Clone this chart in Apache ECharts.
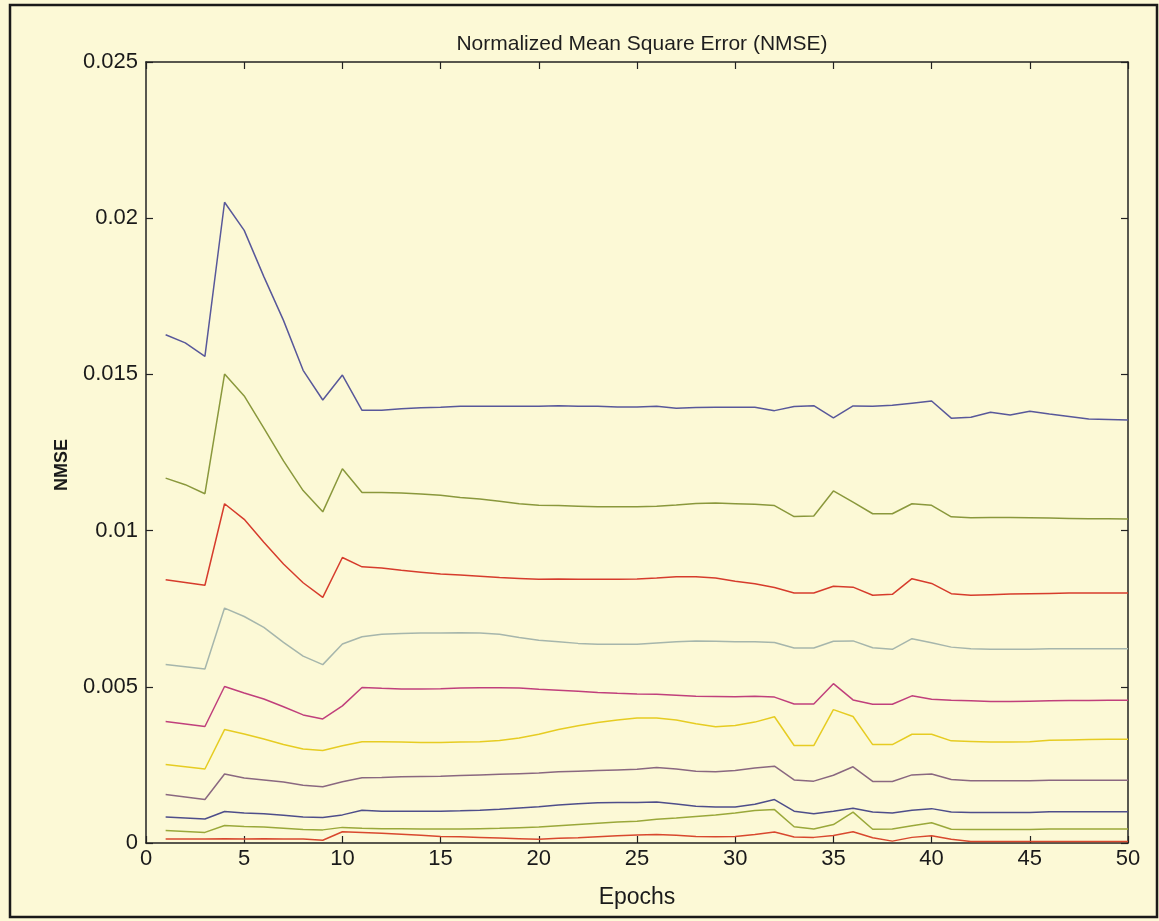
<!DOCTYPE html>
<html>
<head>
<meta charset="utf-8">
<script src="https://cdn.jsdelivr.net/npm/echarts@6/dist/echarts.min.js"></script>
<style>
html,body{margin:0;padding:0;background:#fcf9d6;}
#c{width:1159px;height:921px;}
</style>
</head>
<body>
<div id="c"></div>
<script>
const epochs = [1,2,3,4,5,6,7,8,9,10,11,12,13,14,15,16,17,18,19,20,21,22,23,24,25,26,27,28,29,30,31,32,33,34,35,36,37,38,39,40,41,42,43,44,45,46,47,48,49,50];
const xTicks = [0,5,10,15,20,25,30,35,40,45,50];
const yTicks = [0,0.005,0.01,0.015,0.02,0.025];

// values in units of 1e-3
const s1 = [16.27,16.01,15.58,20.51,19.61,18.13,16.73,15.13,14.18,14.98,13.85,13.85,13.90,13.93,13.95,13.98,13.98,13.98,13.98,13.98,14.00,13.98,13.98,13.96,13.96,13.98,13.92,13.94,13.95,13.95,13.95,13.84,13.97,14.00,13.61,13.99,13.98,14.01,14.08,14.15,13.60,13.63,13.79,13.70,13.82,13.73,13.65,13.57,13.56,13.54];
const s2 = [11.68,11.47,11.18,15.01,14.31,13.28,12.23,11.28,10.60,11.98,11.22,11.22,11.20,11.17,11.13,11.06,11.01,10.94,10.86,10.81,10.80,10.78,10.76,10.76,10.76,10.78,10.82,10.87,10.88,10.86,10.84,10.80,10.45,10.47,11.27,10.91,10.54,10.54,10.86,10.81,10.44,10.41,10.42,10.42,10.41,10.40,10.39,10.38,10.38,10.37];
const s3 = [8.43,8.34,8.25,10.86,10.36,9.63,8.93,8.33,7.86,9.14,8.84,8.80,8.73,8.67,8.61,8.58,8.54,8.50,8.47,8.44,8.45,8.44,8.44,8.44,8.45,8.48,8.52,8.52,8.48,8.38,8.30,8.18,8.00,8.00,8.22,8.19,7.93,7.96,8.46,8.31,7.98,7.93,7.95,7.97,7.98,7.99,8.00,8.00,8.00,8.00];
const s4 = [5.71,5.64,5.57,7.52,7.25,6.90,6.42,5.98,5.71,6.37,6.60,6.68,6.71,6.72,6.72,6.73,6.72,6.68,6.58,6.49,6.44,6.39,6.36,6.36,6.36,6.40,6.44,6.47,6.46,6.44,6.44,6.42,6.24,6.24,6.46,6.47,6.25,6.20,6.54,6.41,6.27,6.22,6.20,6.20,6.20,6.22,6.22,6.22,6.22,6.22];
const s5 = [3.89,3.81,3.73,5.01,4.80,4.61,4.36,4.10,3.97,4.39,4.98,4.95,4.93,4.93,4.94,4.96,4.97,4.97,4.96,4.92,4.89,4.86,4.82,4.79,4.77,4.76,4.73,4.70,4.69,4.68,4.70,4.67,4.45,4.45,5.10,4.58,4.44,4.44,4.71,4.60,4.57,4.55,4.53,4.53,4.54,4.55,4.56,4.56,4.57,4.57];
const s6 = [2.51,2.44,2.37,3.63,3.49,3.33,3.15,3.01,2.96,3.11,3.24,3.24,3.23,3.22,3.22,3.23,3.24,3.28,3.36,3.48,3.63,3.75,3.86,3.94,4.00,4.00,3.94,3.82,3.72,3.76,3.87,4.04,3.12,3.12,4.27,4.05,3.15,3.15,3.48,3.48,3.27,3.25,3.23,3.23,3.24,3.29,3.30,3.31,3.32,3.32];
const s7 = [1.55,1.47,1.39,2.21,2.08,2.02,1.95,1.85,1.80,1.96,2.09,2.10,2.12,2.13,2.14,2.16,2.18,2.20,2.22,2.24,2.28,2.30,2.32,2.34,2.36,2.42,2.37,2.30,2.28,2.32,2.40,2.46,2.02,1.98,2.17,2.44,1.97,1.97,2.18,2.21,2.03,1.99,1.99,1.99,1.99,2.01,2.01,2.01,2.01,2.01];
const s8 = [0.83,0.80,0.77,1.01,0.96,0.94,0.89,0.83,0.82,0.90,1.05,1.02,1.02,1.02,1.02,1.03,1.05,1.08,1.12,1.16,1.22,1.26,1.29,1.30,1.30,1.31,1.25,1.18,1.15,1.15,1.24,1.39,1.02,0.94,1.02,1.11,0.99,0.96,1.05,1.10,0.99,0.98,0.98,0.98,0.98,1.00,1.00,1.00,1.00,1.00];
const s9 = [0.40,0.37,0.34,0.56,0.53,0.51,0.47,0.43,0.42,0.50,0.47,0.46,0.46,0.45,0.45,0.45,0.46,0.47,0.49,0.51,0.55,0.59,0.63,0.67,0.70,0.76,0.80,0.85,0.90,0.96,1.04,1.07,0.52,0.45,0.59,0.99,0.44,0.45,0.55,0.65,0.44,0.43,0.43,0.43,0.43,0.45,0.45,0.45,0.45,0.45];
const s10 = [0.13,0.13,0.13,0.14,0.13,0.14,0.13,0.13,0.09,0.36,0.34,0.31,0.28,0.25,0.21,0.20,0.18,0.16,0.14,0.12,0.15,0.17,0.20,0.23,0.26,0.27,0.25,0.21,0.20,0.21,0.27,0.35,0.19,0.18,0.24,0.36,0.17,0.06,0.18,0.23,0.12,0.05,0.05,0.05,0.05,0.05,0.05,0.05,0.05,0.05];

const seriesValues = [s1,s2,s3,s4,s5,s6,s7,s8,s9,s10];
const seriesColors = ['#58589a','#8a983c','#d63c2c','#a6b6ac','#c0407c','#e6cc22','#8a6880','#4e4e8a','#9aa83a','#d8482e'];

const chart = echarts.init(document.getElementById('c'), null, {renderer:'canvas'});
const FONT = 'Liberation Sans, Arial, sans-serif';

const series = seriesValues.map((vals, i) => ({
  type: 'line',
  xAxisIndex: 0, yAxisIndex: 0,
  data: epochs.map((e, k) => [e, vals[k] / 1000]),
  showSymbol: false,
  symbol: 'none',
  smooth: false,
  lineStyle: {width: 1.5, color: seriesColors[i]},
  itemStyle: {color: seriesColors[i]},
  z: 3
}));

const tickInside = {show: true, inside: true, length: 7, lineStyle: {color: '#222', width: 1.2}};

chart.setOption({
  backgroundColor: '#fcf9d6',
  animation: false,
  title: {
    text: 'Normalized Mean Square Error (NMSE)',
    left: 637, top: 29, textAlign: 'center',
    textStyle: {fontFamily: FONT, fontSize: 21, fontWeight: 'normal', color: '#1e1e1e'}
  },
  grid: {left: 146, right: 31, top: 62, bottom: 78, show: false},
  xAxis: [{
    type: 'value', min: 0, max: 50, interval: 5,
    position: 'bottom',
    name: 'Epochs', nameLocation: 'middle', nameGap: 43,
    nameTextStyle: {fontFamily: FONT, fontSize: 23, color: '#1a1a1a'},
    axisLine: {show: true, onZero: false, lineStyle: {color: '#222', width: 1.5}},
    axisTick: tickInside,
    axisLabel: {fontFamily: FONT, fontSize: 22, color: '#1a1a1a', margin: 5,
      formatter: v => xTicks.includes(v) ? String(v) : ''},
    splitLine: {show: false}
  }, {
    type: 'value', min: 0, max: 50, interval: 5,
    position: 'top',
    axisLine: {show: true, onZero: false, lineStyle: {color: '#222', width: 1.5}},
    axisTick: tickInside,
    axisLabel: {show: false},
    splitLine: {show: false}
  }],
  yAxis: [{
    type: 'value', min: 0, max: 0.025, interval: 0.005,
    position: 'left',
    axisLine: {show: true, onZero: false, lineStyle: {color: '#222', width: 1.5}},
    axisTick: tickInside,
    axisLabel: {fontFamily: FONT, fontSize: 22, color: '#1a1a1a', margin: 8,
      formatter: v => {
        const t = yTicks.find(y => Math.abs(y - v) < 1e-9);
        return t === undefined ? '' : String(t);
      }},
    splitLine: {show: false}
  }, {
    type: 'value', min: 0, max: 0.025, interval: 0.005,
    position: 'right',
    axisLine: {show: true, onZero: false, lineStyle: {color: '#222', width: 1.5}},
    axisTick: tickInside,
    axisLabel: {show: false},
    splitLine: {show: false}
  }],
  graphic: [{
    type: 'rect',
    shape: {x: 10, y: 5, width: 1147, height: 912},
    style: {fill: 'none', stroke: '#1a1a1a', lineWidth: 2.5},
    silent: true, z: 10
  }, {
    type: 'text',
    x: 62, y: 465, rotation: Math.PI / 2,
    style: {text: 'NMSE', fontFamily: FONT, fontSize: 18, fontWeight: 'bold', fill: '#1a1a1a',
      textAlign: 'center', textVerticalAlign: 'middle'},
    silent: true, z: 10
  }],
  series: series
});
</script>
</body>
</html>
